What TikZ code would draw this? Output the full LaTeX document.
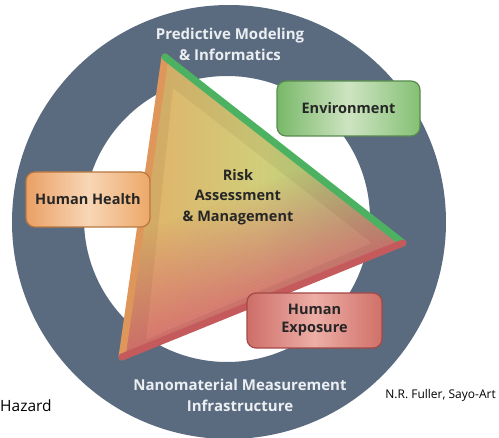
\documentclass[tikz,border=0pt]{standalone}
\usepackage{fontspec}
\setmainfont{Open Sans}

\definecolor{ringblue}{RGB}{90,107,128}
\definecolor{ringtext}{RGB}{236,239,242}
\definecolor{triorange}{RGB}{228,172,102}
\definecolor{triyellow}{RGB}{208,206,122}
\definecolor{trigreen}{RGB}{146,208,128}
\definecolor{trired}{RGB}{214,108,112}
\definecolor{edgeorange}{RGB}{222,150,90}
\definecolor{edgegreen}{RGB}{76,178,98}
\definecolor{edgered}{RGB}{196,90,92}

\begin{document}
\begin{tikzpicture}[line cap=round,line join=round,x=1pt,y=-1pt,
	box/.style={rounded corners=9pt,line width=1.2pt,font=\fontsize{14.5}{18}\selectfont\bfseries,text=black!85,align=center,minimum height=55pt},
	ringlabel/.style={font=\fontsize{15}{21}\selectfont\bfseries,text=ringtext,align=center}]
	\useasboundingbox (0,0) rectangle (499,438);
	\fill[ringblue,even odd rule] (229,222) circle (217pt) (227,219) circle (143pt);
	\coordinate (apex) at (165,57);
	\coordinate (corner) at (403,243);
	\coordinate (base) at (122,357);
	\coordinate (inapex) at (173,88);
	\coordinate (incorner) at (372,243);
	\coordinate (inbase) at (146,340);
	\begin{scope}
	\clip (apex) -- (corner) -- (base) -- cycle;
	\shade[left color=triorange,right color=trigreen,middle color=triyellow] (115,50) rectangle (410,360);
	% red towards the lower edge
	\begin{scope}[rotate around={22:(122,357)}]
	\foreach \i in {0,...,35}
	\fill[trired,opacity={0.88*(1-\i/36)}] (60,{357-3*\i}) rectangle (440,{357-3*(\i+1)});
	\end{scope}
	\fill[black,opacity=0.05,even odd rule] (apex) -- (corner) -- (base) -- cycle (inapex) -- (incorner) -- (inbase) -- cycle;
	\end{scope}
	\draw[edgeorange,line width=7pt] (apex) -- (base);
	\draw[edgegreen,line width=7pt] (apex) -- (corner);
	\draw[edgered,line width=7pt] (base) -- (corner);
	\node[font=\fontsize{14.5}{20.5}\selectfont\bfseries,text=black!85,align=center] (risk) at (238,197) {Risk\\Assessment\\\& Management};
	\node[box,draw={rgb,255:red,184;green,120;blue,64},left color={rgb,255:red,234;green,160;blue,100},right color={rgb,255:red,236;green,168;blue,104},middle color={rgb,255:red,248;green,214;blue,182},minimum width=124pt] (health) at (88,199.5) {Human Health};
	\node[box,draw={rgb,255:red,88;green,138;blue,78},left color={rgb,255:red,120;green,184;blue,104},right color={rgb,255:red,132;green,192;blue,116},middle color={rgb,255:red,206;green,228;blue,194},minimum width=143pt] (env) at (348.5,108.5) {Environment};
	\node[box,draw={rgb,255:red,164;green,72;blue,72},left color={rgb,255:red,206;green,110;blue,104},right color={rgb,255:red,208;green,112;blue,104},middle color={rgb,255:red,236;green,174;blue,166},minimum width=135pt] (exposure) at (314.5,320.5) {Human\\Exposure};
	\node[ringlabel] (modeling) at (230,44) {Predictive Modeling\\\& Informatics};
	\node[ringlabel] (measurement) at (240,395.5) {Nanomaterial Measurement\\Infrastructure};
	\node[anchor=west,font=\fontsize{15.5}{18}\selectfont,inner sep=0pt] (hazard) at (0,406) {Hazard};
	\node[anchor=east,font=\fontsize{12}{14}\selectfont,inner sep=0pt] (credit) at (496,395) {N.R. Fuller, Sayo-Art};
\end{tikzpicture}
\end{document}
